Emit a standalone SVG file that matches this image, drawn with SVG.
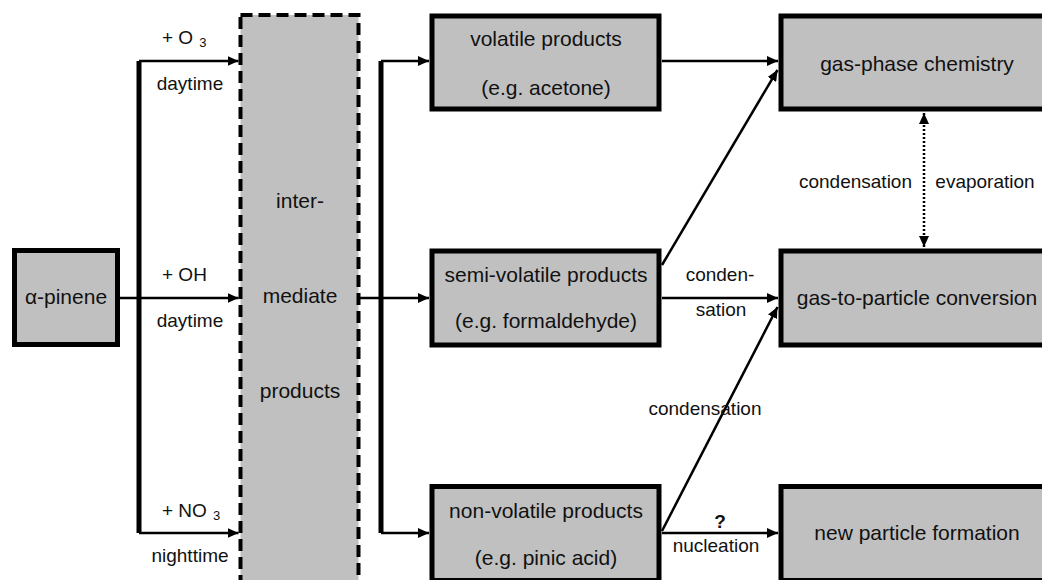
<svg xmlns="http://www.w3.org/2000/svg" width="1042" height="580" viewBox="0 0 1042 580">
<defs>
<style>
.node{fill:#c0c0c0;stroke:#000;stroke-width:5}
.dash{fill:#c0c0c0;stroke:#000;stroke-width:4;stroke-dasharray:12 6}
.t{font-family:"Liberation Sans",Arial,sans-serif;font-size:21px;fill:#111;text-anchor:middle}
.l{font-family:"Liberation Sans",Arial,sans-serif;font-size:19px;fill:#111;text-anchor:middle}
.ls{text-anchor:start}
.sub{font-size:13px}
.e{fill:none;stroke:#000;stroke-width:2.5}
.trunk{fill:none;stroke:#000;stroke-width:5}
.dot{fill:none;stroke:#000;stroke-width:2.5;stroke-dasharray:2 2}
</style>
<marker id="ah" viewBox="0 0 11 10" refX="11" refY="5" markerWidth="11" markerHeight="10" markerUnits="userSpaceOnUse" orient="auto">
<path d="M0,0 L11,5 L0,10 z" fill="#000"/>
</marker>
<marker id="ahs" viewBox="0 0 11 10" refX="11" refY="5" markerWidth="11" markerHeight="10" markerUnits="userSpaceOnUse" orient="auto-start-reverse">
<path d="M0,0 L11,5 L0,10 z" fill="#000"/>
</marker>
</defs>
<rect width="1042" height="580" fill="#fff"/>

<g id="intermediate">
<rect class="dash" x="240.5" y="15" width="118" height="600"/>
<text class="t" x="300" y="208">inter-</text>
<text class="t" x="300" y="303">mediate</text>
<text class="t" x="300" y="398">products</text>
</g>

<g id="connectors">
<line class="e" x1="120" y1="298" x2="238.5" y2="298" marker-end="url(#ah)"/>
<line class="trunk" x1="139" y1="61" x2="139" y2="533"/>
<line class="e" x1="139" y1="61" x2="238.5" y2="61" marker-end="url(#ah)"/>
<line class="e" x1="139" y1="533" x2="238.5" y2="533" marker-end="url(#ah)"/>
<line class="e" x1="359" y1="298" x2="429" y2="298" marker-end="url(#ah)"/>
<line class="trunk" x1="381" y1="61" x2="381" y2="533"/>
<line class="e" x1="381" y1="61" x2="429" y2="61" marker-end="url(#ah)"/>
<line class="e" x1="381" y1="533" x2="429" y2="533" marker-end="url(#ah)"/>
<line class="e" x1="662" y1="61" x2="778" y2="61" marker-end="url(#ah)"/>
<line class="e" x1="662" y1="265" x2="777.5" y2="70" marker-end="url(#ah)"/>
<line class="e" x1="662" y1="298" x2="778" y2="298" marker-end="url(#ah)"/>
<line class="e" x1="662" y1="531" x2="777.5" y2="307" marker-end="url(#ah)"/>
<line class="e" x1="662" y1="533" x2="778" y2="533" marker-end="url(#ah)"/>
<line class="dot" x1="924" y1="113" x2="924" y2="247" marker-start="url(#ahs)" marker-end="url(#ah)"/>
<text class="l ls" x="162" y="44">+ O<tspan class="sub" dx="6" dy="3">3</tspan></text>
<text class="l" x="190" y="90">daytime</text>
<text class="l ls" x="162" y="281">+ OH</text>
<text class="l" x="190" y="327">daytime</text>
<text class="l ls" x="162" y="517">+ NO<tspan class="sub" dx="6" dy="3">3</tspan></text>
<text class="l" x="190" y="562">nighttime</text>
<text class="l" x="720" y="281">conden-</text>
<text class="l" x="721" y="316">sation</text>
<text class="l" x="705" y="415">condensation</text>
<text class="l" x="720" y="528" font-weight="bold">?</text>
<text class="l" x="716" y="552">nucleation</text>
<text class="l" x="855.5" y="188">condensation</text>
<text class="l" x="985" y="188">evaporation</text>
</g>

<g id="alpha-pinene">
<rect class="node" x="14.5" y="250.5" width="103" height="94"/>
<text class="t" x="66" y="304">α-pinene</text>
</g>

<g id="volatile">
<rect class="node" x="432" y="16" width="227" height="93"/>
<text class="t" x="546" y="46">volatile products</text>
<text class="t" x="546" y="95">(e.g. acetone)</text>
</g>

<g id="semi-volatile">
<rect class="node" x="432" y="251" width="227" height="94"/>
<text class="t" x="546" y="282">semi-volatile products</text>
<text class="t" x="546" y="328">(e.g. formaldehyde)</text>
</g>

<g id="non-volatile">
<rect class="node" x="432" y="486.5" width="227" height="94"/>
<text class="t" x="546" y="518">non-volatile products</text>
<text class="t" x="546" y="565">(e.g. pinic acid)</text>
</g>

<g id="gas-phase">
<rect class="node" x="781" y="16" width="280" height="93"/>
<text class="t" x="917" y="71">gas-phase chemistry</text>
</g>

<g id="gas-to-particle">
<rect class="node" x="781" y="251" width="280" height="94"/>
<text class="t" x="917" y="305">gas-to-particle conversion</text>
</g>

<g id="new-particle">
<rect class="node" x="781" y="486.5" width="280" height="94"/>
<text class="t" x="917" y="540">new particle formation</text>
</g>
</svg>
